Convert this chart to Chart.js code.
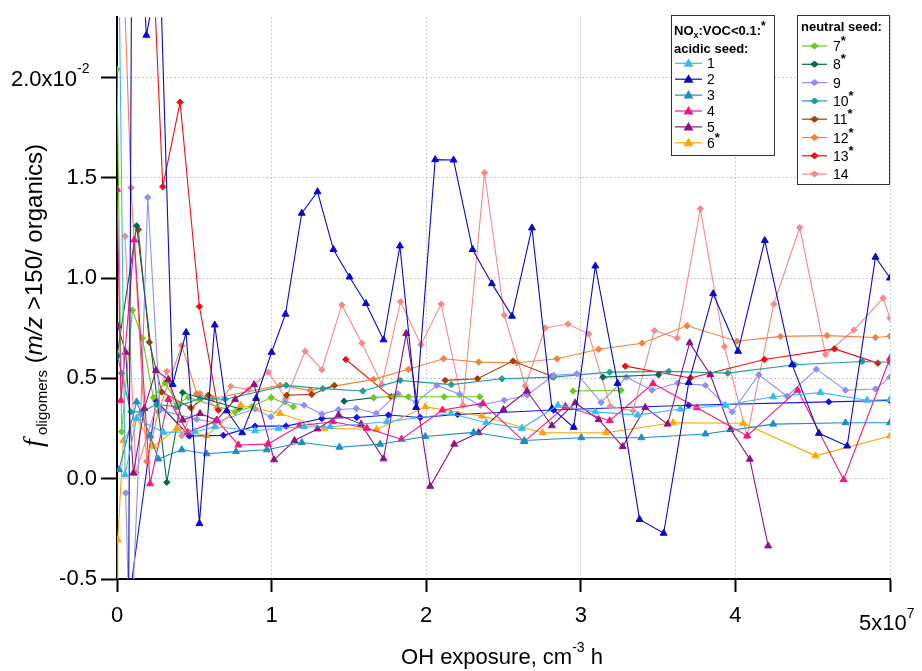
<!DOCTYPE html>
<html>
<head>
<meta charset="utf-8">
<script src="https://cdn.jsdelivr.net/npm/chart.js@4.4.1/dist/chart.umd.min.js"></script>
<style>
  html, body { margin: 0; padding: 0; background: #fff; }
  #wrap { width: 922px; height: 671px; }
</style>
</head>
<body>
<div id="wrap"><canvas id="myChart" width="922" height="671"></canvas></div>
<script>
// x in units of 1e7 cm-3 h, y in units of 1e-2 ; [x, null] breaks the line
var s1 = [[0.012,2.6],[0.052,0.02],[0.127,0.30],[0.30,0.231],[0.505,0.234],[0.634,0.259],[0.893,0.239],[1.044,0.251],[1.21,0.259],[1.379,0.259],[1.746,0.284],[2.16,0.325],[2.388,0.279],[2.619,0.251],[2.852,0.366],[3.094,0.333],[3.368,0.317],[3.644,0.347],[3.935,0.366],[4.244,0.408],[4.55,0.429],[4.852,0.391],[5.0,0.395]];
var s2 = [[0.07,-1.5],[0.10,3.5],[0.19,2.21],[0.278,2.57],[0.36,0.47],[0.447,0.729],[0.533,-0.224],[0.632,0.766],[0.71,0.338],[0.81,0.229],[0.90,0.40],[1.0,0.63],[1.09,0.82],[1.195,1.323],[1.297,1.43],[1.40,1.142],[1.504,1.005],[1.61,0.873],[1.724,0.692],[1.83,1.16],[1.935,0.355],[2.058,1.59],[2.177,1.588],[2.30,1.142],[2.425,0.972],[2.555,0.81],[2.684,1.25],[2.813,0.35],[2.954,0.256],[3.094,1.06],[3.238,0.475],[3.38,-0.203],[3.536,-0.272],[3.698,0.479],[3.856,0.922],[4.017,0.635],[4.19,1.187],[4.367,0.568],[4.54,0.226],[4.723,0.163],[4.906,1.104],[5.0,1.0]];
var s3 = [[0.013,0.045],[0.127,0.383],[0.214,0.214],[0.267,0.098],[0.419,0.144],[0.58,0.124],[0.77,0.135],[0.969,0.144],[1.195,0.18],[1.439,0.157],[1.702,0.172],[1.994,0.21],[2.307,0.231],[2.634,0.19],[3.003,0.204],[3.392,0.204],[3.806,0.223],[4.244,0.272],[4.712,0.279],[5.0,0.279]];
var s4 = [[0.0,1.442],[0.026,0.39],[0.112,1.19],[0.214,-0.025],[0.332,0.396],[0.457,0.231],[0.649,0.289],[0.785,0.168],[0.975,0.172],[1.18,0.264],[1.396,0.284],[1.616,0.251],[1.84,0.197],[2.105,0.342],[2.367,0.375],[2.634,0.185],[2.9,0.361],[3.187,0.289],[3.467,0.474],[3.752,0.353],[4.076,0.213],[4.403,0.441],[4.7,-0.005],[5.0,0.6]];
var s5 = [[0.005,0.762],[0.056,0.63],[0.106,0.028],[0.177,0.35],[0.252,0.54],[0.332,0.494],[0.425,0.292],[0.537,0.325],[0.645,0.292],[0.764,0.395],[0.887,0.469],[1.016,0.094],[1.148,0.19],[1.297,0.248],[1.433,0.317],[1.579,0.272],[1.724,0.099],[1.871,0.724],[2.026,-0.038],[2.181,0.172],[2.339,0.229],[2.5,0.345],[2.652,0.437],[2.813,0.264],[2.964,0.378],[3.115,0.295],[3.271,0.16],[3.417,0.355],[3.562,0.272],[3.704,0.677],[3.838,0.518],[3.968,0.246],[4.093,0.097],[4.212,-0.335]];
var s6 = [[0.0,-1.0],[0.005,-0.305],[0.041,0.19],[0.127,0.30],[0.235,0.16],[0.386,0.251],[0.58,0.214],[0.80,0.366],[1.055,0.325],[1.34,0.251],[1.68,0.245],[1.994,0.358],[2.36,0.312],[2.753,0.229],[3.163,0.229],[3.597,0.279],[4.05,0.276],[4.518,0.114],[5.0,0.213]];
var s7 = [[0.0,2.04],[0.03,0.234],[0.10,0.84],[0.164,0.70],[0.235,0.404],[0.311,0.477],[0.39,0.375],[0.462,0.404],[0.764,0.333],[0.872,0.358],[0.997,0.404],[1.141,0.358],[1.3,null],[1.659,0.404],[1.79,0.41],[1.885,0.408],[2.116,0.408],[2.346,0.408],[2.6,null],[2.95,0.437],[3.26,0.44]];
var s8 = [[0.0,0.61],[0.127,1.26],[0.322,-0.018],[0.425,0.429],[0.79,0.35],[1.0,null],[1.469,0.386],[1.66,0.404],[2.0,null],[3.143,0.506],[3.503,0.518]];
var s9 = [[0.056,-0.071],[0.085,-0.9],[0.153,0.32],[0.199,1.402],[0.278,0.342],[0.516,0.296],[0.63,0.28],[0.893,0.347],[0.995,0.308],[1.087,0.383],[1.21,0.366],[1.325,0.322],[1.433,0.345],[1.547,0.35],[1.676,0.325],[1.817,0.424],[1.935,0.38],[2.069,0.465],[2.216,0.421],[2.35,0.366],[2.505,0.391],[2.652,0.416],[2.824,0.515],[2.975,0.523],[3.131,0.38],[3.295,0.506],[3.46,0.441],[3.627,0.477],[3.806,0.465],[3.979,0.333],[4.151,0.518],[4.334,0.411],[4.524,0.546],[4.712,0.441],[4.906,0.447],[5.0,0.506]];
var s10 = [[0.0,0.619],[0.03,0.526],[0.089,0.333],[0.16,0.333],[0.257,0.371],[0.386,0.358],[0.537,0.40],[0.699,0.396],[1.094,0.465],[1.331,0.449],[1.59,0.437],[1.832,0.49],[2.162,0.469],[2.49,0.498],[2.824,0.506],[3.187,0.531],[3.568,0.535],[3.95,0.526],[4.382,0.568],[4.82,0.584],[5.0,0.58]];
var s11 = [[0.138,1.241],[0.209,0.68],[0.289,0.432],[0.477,0.353],[0.591,0.416],[0.8,null],[1.098,0.416],[1.26,0.42],[1.406,0.465],[1.8,null],[2.123,0.49],[2.332,0.498],[2.561,0.586],[2.813,0.51]];
var s12 = [[0.04,2.6],[0.091,1.45],[0.192,0.086],[0.267,0.333],[0.419,0.663],[0.516,0.424],[0.62,0.40],[1.055,0.465],[1.25,0.44],[1.659,0.495],[1.885,0.545],[2.112,0.598],[2.339,0.581],[2.587,0.578],[2.846,0.598],[3.115,0.645],[3.396,0.675],[3.687,0.762],[4.011,0.685],[4.291,0.709],[4.593,0.713],[4.906,0.704],[5.0,0.71]];
var s13 = [[0.227,2.7],[0.296,1.455],[0.408,1.876],[0.533,0.858],[0.656,0.342],[1.0,null],[1.48,0.594],[1.773,0.408],[2.5,null],[3.288,0.561],[3.709,0.502],[4.188,0.594],[4.641,0.647],[4.921,0.576]];
var s14 = [[0.052,1.208],[0.123,0.031],[0.322,0.535],[0.419,0.214],[0.537,0.424],[0.645,0.353],[0.736,0.46],[0.85,0.444],[0.979,0.531],[1.092,0.40],[1.217,0.635],[1.325,0.543],[1.454,0.866],[1.584,0.675],[1.713,0.469],[1.834,0.882],[1.966,0.668],[2.097,0.87],[2.237,0.366],[2.377,1.525],[2.505,0.815],[2.641,0.462],[2.77,0.751],[2.917,0.771],[3.051,0.721],[3.191,0.361],[3.338,0.338],[3.476,0.738],[3.623,0.701],[3.773,1.345],[3.929,0.658],[4.076,0.213],[4.248,0.87],[4.416,1.252],[4.583,0.619],[4.766,0.741],[4.956,0.9],[5.0,0.8]];
// blue trace with round markers, not listed in the legend
var s15 = [[0.01,-1.0],[0.252,0.388],[0.468,0.213],[0.688,0.216],[0.893,0.262],[1.094,0.262],[1.325,0.30],[1.551,0.305],[1.756,0.317],[1.961,0.305],[2.203,0.32],[2.824,0.342],[3.698,0.366],[4.604,0.383],[5.0,0.39]];

var seriesNames = ['1', '2', '3', '4', '5', '6*', '7*', '8*', '9', '10*', '11*', '12*', '13*', '14', ''];
var seriesData = [s1, s2, s3, s4, s5, s6, s7, s8, s9, s10, s11, s12, s13, s14, s15];
var seriesColors = ['#3cb8f0', '#0a0ac8', '#1e8cc8', '#f0187a', '#8c1480', '#ffa500', '#6ccc1e', '#0a6650',
                    '#9090f0', '#1e9e9a', '#a0400a', '#f58040', '#ee1010', '#f58a8a', '#1414e6'];
var xTicks = [0, 1, 2, 3, 4, 5];
var yTicks = [-0.5, 0.0, 0.5, 1.0, 1.5, 2.0];

var FONT = '"Liberation Sans", Arial, Helvetica, sans-serif';

function toPoints(arr) {
    return arr.map(function(p) { return {x: p[0], y: p[1]}; });
}

function marcador(i) {
    // series 1-6 acidic seed: triangles; the rest: diamonds
    return i < 6 ? 'triangle' : 'rectRot';
}

var datasets = seriesData.map(function(arr, i) {
    return {
        label: seriesNames[i],
        data: toPoints(arr),
        borderColor: seriesColors[i],
        backgroundColor: seriesColors[i],
        borderWidth: 1.1,
        pointStyle: marcador(i),
        pointRadius: i < 6 ? 4 : 3.2,
        pointBorderWidth: 1,
        pointBorderColor: seriesColors[i],
        pointBackgroundColor: seriesColors[i],
        spanGaps: false,
        tension: 0
    };
});

function desenhaMarcador(ctx, estilo, x, y, cor) {
    ctx.fillStyle = cor;
    ctx.beginPath();
    if (estilo === 'triangle') {
        ctx.moveTo(x, y - 5);
        ctx.lineTo(x + 5, y + 3.5);
        ctx.lineTo(x - 5, y + 3.5);
    } else {
        ctx.moveTo(x, y - 3.5);
        ctx.lineTo(x + 4.5, y);
        ctx.lineTo(x, y + 3.5);
        ctx.lineTo(x - 4.5, y);
    }
    ctx.closePath();
    ctx.fill();
}

// text with raised/lowered pieces: parts = [[text, font, dy], ...]
function textoPartes(ctx, parts, x, y) {
    var cx = x;
    parts.forEach(function(p) {
        ctx.font = p[1];
        ctx.fillText(p[0], cx, y + (p[2] || 0));
        cx += ctx.measureText(p[0]).width;
    });
    return cx;
}

function larguraPartes(ctx, parts) {
    var w = 0;
    parts.forEach(function(p) { ctx.font = p[1]; w += ctx.measureText(p[0]).width; });
    return w;
}

function entradaLegenda(ctx, i, x0, x1, y, textX) {
    var cor = seriesColors[i];
    ctx.strokeStyle = cor;
    ctx.lineWidth = 1.2;
    ctx.beginPath();
    ctx.moveTo(x0, y);
    ctx.lineTo(x1, y);
    ctx.stroke();
    desenhaMarcador(ctx, marcador(i), (x0 + x1) / 2, y, cor);
    var nome = seriesNames[i];
    var estrela = nome.indexOf('*') >= 0;
    ctx.fillStyle = '#000';
    ctx.textBaseline = 'alphabetic';
    ctx.textAlign = 'left';
    var parts = [[nome.replace('*', ''), '14px ' + FONT, 0]];
    if (estrela) parts.push(['*', 'bold 13px ' + FONT, -6]);
    textoPartes(ctx, parts, textX, y + 5);
}

var overlay = {
    id: 'overlay',
    afterDraw: function(chart) {
        var ctx = chart.ctx;
        ctx.save();
        ctx.fillStyle = '#000';
        ctx.textAlign = 'left';
        ctx.textBaseline = 'alphabetic';

        // y tick label with exponent
        textoPartes(ctx, [['2.0x10', '22px ' + FONT, 0], ['-2', '14px ' + FONT, -13]], 11, 86);
        // x tick label with exponent
        textoPartes(ctx, [['5x10', '22px ' + FONT, 0], ['7', '14px ' + FONT, -12]], 859, 630);

        // x axis title
        var xt = [['OH exposure, cm', '22px ' + FONT, 0], ['-3', '14px ' + FONT, -12], [' h', '22px ' + FONT, 0]];
        var wx = larguraPartes(ctx, xt);
        textoPartes(ctx, xt, 502 - wx / 2, 664);

        // y axis title, rotated
        ctx.save();
        ctx.translate(42, 447);
        ctx.rotate(-Math.PI / 2);
        textoPartes(ctx, [
            ['f', 'italic 28px "Liberation Serif", "Times New Roman", serif', 0],
            [' oligomers', '15px ' + FONT, 5],
            [' (', '24px ' + FONT, 0],
            ['m/z', 'italic 24px ' + FONT, 0],
            [' >150/ organics)', '24px ' + FONT, 0]
        ], 0, 0);
        ctx.restore();

        // legend boxes
        ctx.lineWidth = 1;
        ctx.fillStyle = '#fff';
        ctx.strokeStyle = '#333';
        ctx.fillRect(671.5, 15.5, 103, 140);
        ctx.strokeRect(671.5, 15.5, 103, 140);
        ctx.fillRect(797.5, 15.5, 92, 169);
        ctx.strokeRect(797.5, 15.5, 92, 169);

        ctx.fillStyle = '#000';
        textoPartes(ctx, [
            ['NO', 'bold 13px ' + FONT, 0],
            ['x', 'bold 9px ' + FONT, 3],
            [':VOC<0.1:', 'bold 13px ' + FONT, 0],
            ['*', 'bold 12px ' + FONT, -5]
        ], 674, 35);
        ctx.font = 'bold 13px ' + FONT;
        ctx.fillText('acidic seed:', 674, 53);
        ctx.fillText('neutral seed:', 801, 31);

        for (var i = 0; i < 6; i++) {
            entradaLegenda(ctx, i, 675, 702, 63.3 + i * 15.9, 707);
        }
        for (var j = 6; j < 14; j++) {
            entradaLegenda(ctx, j, 802, 827, 46 + (j - 6) * 18.3, 833);
        }
        ctx.restore();
    }
};

var ctx = document.getElementById('myChart').getContext('2d');
var myChart = new Chart(ctx, {
    type: 'line',
    data: { datasets: datasets },
    options: {
        responsive: false,
        animation: false,
        events: [],
        layout: { padding: { top: 15, right: 32, left: 0, bottom: 0 } },
        plugins: {
            legend: { display: false },
            tooltip: { enabled: false }
        },
        scales: {
            x: {
                type: 'linear',
                min: 0,
                max: 5,
                afterFit: function(scale) { scale.height = 92; },
                afterBuildTicks: function(scale) {
                    scale.ticks = xTicks.map(function(v) { return {value: v}; });
                },
                ticks: {
                    color: '#000',
                    font: { size: 22, family: FONT },
                    padding: 11,
                    maxRotation: 0,
                    callback: function(v) { return v === 5 ? '' : String(v); }
                },
                grid: {
                    color: '#c8c8c8',
                    lineWidth: 1,
                    tickColor: '#000',
                    tickLength: 13,
                    tickWidth: 2,
                    tickBorderDash: []
                },
                border: { color: '#000', width: 2, dash: [2, 2] }
            },
            y: {
                min: -0.5,
                max: 2.3,
                afterFit: function(scale) { scale.width = 117; },
                afterBuildTicks: function(scale) {
                    scale.ticks = yTicks.map(function(v) { return {value: v}; });
                },
                ticks: {
                    color: '#000',
                    font: { size: 22, family: FONT },
                    padding: 4,
                    callback: function(v) { return v === 2 ? '' : v.toFixed(1); }
                },
                grid: {
                    color: '#c8c8c8',
                    lineWidth: 1,
                    tickColor: '#000',
                    tickLength: 16,
                    tickWidth: 2,
                    tickBorderDash: []
                },
                border: { color: '#000', width: 2, dash: [2, 2] }
            }
        }
    },
    plugins: [overlay]
});
</script>
</body>
</html>
